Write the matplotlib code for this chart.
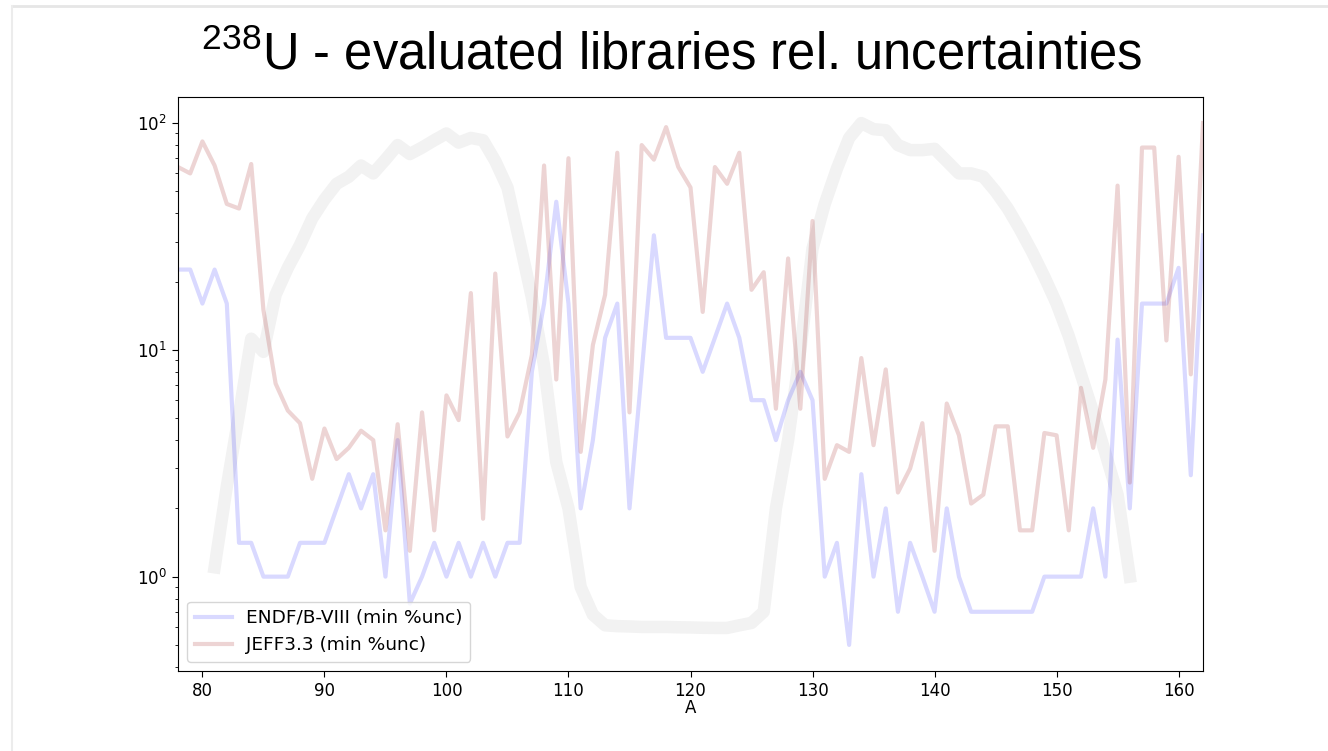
import numpy as np
import matplotlib.pyplot as plt
from matplotlib.lines import Line2D

plt.rcParams['mathtext.fontset'] = 'custom'
plt.rcParams['mathtext.rm'] = 'Liberation Sans'

# mass numbers
A = np.arange(78, 163)
A_yield = np.arange(81, 157)

# minimum relative uncertainty (%) per mass number
endf = [22.6, 22.6, 16, 22.6, 16, 1.41, 1.41, 1.0, 1.0, 1.0,
        1.41, 1.41, 1.41, 2.0, 2.83, 2.0, 2.83, 1.0, 4.0, 0.76,
        1.0, 1.41, 1.0, 1.41, 1.0, 1.41, 1.0, 1.41, 1.41, 8.0,
        16, 45, 16, 2.0, 4.0, 11.3, 16, 2.0, 8.0, 32,
        11.3, 11.3, 11.3, 8.0, 11.3, 16, 11.3, 6.0, 6.0, 4.0,
        6.0, 8.0, 6.0, 1.0, 1.41, 0.5, 2.83, 1.0, 2.0, 0.7,
        1.41, 1.0, 0.7, 2.0, 1.0, 0.7, 0.7, 0.7, 0.7, 0.7,
        0.7, 1.0, 1.0, 1.0, 1.0, 2.0, 1.0, 11.1, 2.0, 16,
        16, 16, 23, 2.8, 32]
jeff = [64, 60, 83, 65, 44, 42, 66, 15, 7.1, 5.4,
        4.75, 2.7, 4.5, 3.3, 3.7, 4.4, 4.0, 1.6, 4.7, 1.3,
        5.3, 1.6, 6.3, 4.9, 17.8, 1.8, 21.7, 4.15, 5.3, 9.5,
        65, 7.4, 70, 3.55, 10.5, 17.5, 74, 5.3, 80, 69,
        96, 64, 52, 14.7, 64, 54, 74, 18.4, 22, 5.5,
        25.3, 5.5, 37, 2.7, 3.8, 3.55, 9.2, 3.8, 8.2, 2.35,
        3.0, 4.75, 1.3, 5.8, 4.2, 2.1, 2.3, 4.6, 4.6, 1.6,
        1.6, 4.3, 4.2, 1.6, 6.8, 3.7, 7.4, 53, 2.6, 78,
        78, 11, 71, 7.8, 100]

# fission yield shape (scaled), drawn as a faint background
yield_curve = [1.1, 2.5, 5.2, 11.2, 9.8, 17.5, 23, 29, 38, 46,
               54, 58, 65, 60, 69, 80, 73, 78, 84, 90,
               82, 86, 84, 68, 52, 30, 17, 8.5, 3.2, 2.0,
               0.9, 0.68, 0.61, 0.605, 0.603, 0.6, 0.6, 0.6, 0.598, 0.597,
               0.595, 0.594, 0.594, 0.61, 0.625, 0.70, 2.0, 4.0, 10, 28,
               44, 63, 86, 100, 94, 93, 80, 76, 76, 77,
               68, 60, 60, 58, 50, 42, 34, 27, 21, 16,
               11.5, 7.8, 5.3, 3.5, 2.3, 1.0]

fig = plt.figure(figsize=(13.28, 7.51), dpi=100)

# slide edge
fig.add_artist(Line2D([12 / 1328, 1], [1 - 6 / 751, 1 - 6 / 751], color='#e6e6e6', lw=2))
fig.add_artist(Line2D([12 / 1328, 12 / 1328], [0, 1 - 6 / 751], color='#ececec', lw=1.5))

fig.text(0.506, 1 - 70 / 751, r'$^{238}$U - evaluated libraries rel. uncertainties',
         family='Liberation Sans', fontsize=36.5, ha='center', va='baseline')

ax = fig.add_axes([178 / 1328, 1 - 671 / 751, (1203 - 178) / 1328, (671 - 97) / 751])
ax.plot(A_yield, yield_curve, color='gray', alpha=0.1, lw=9)
ax.plot(A, endf, color='blue', alpha=0.15, lw=3, label='ENDF/B-VIII (min %unc)')
ax.plot(A, jeff, color='brown', alpha=0.2, lw=3, label='JEFF3.3 (min %unc)')
ax.set_yscale('log')
ax.set_xlim(78, 162)
ax.set_xlabel('A', fontsize=12, labelpad=-1)
ax.tick_params(labelsize=12, length=4.5)
ax.tick_params(which='minor', length=2.5)
ax.legend(loc='lower left', fontsize=13.3)

fig.savefig('out.png')
